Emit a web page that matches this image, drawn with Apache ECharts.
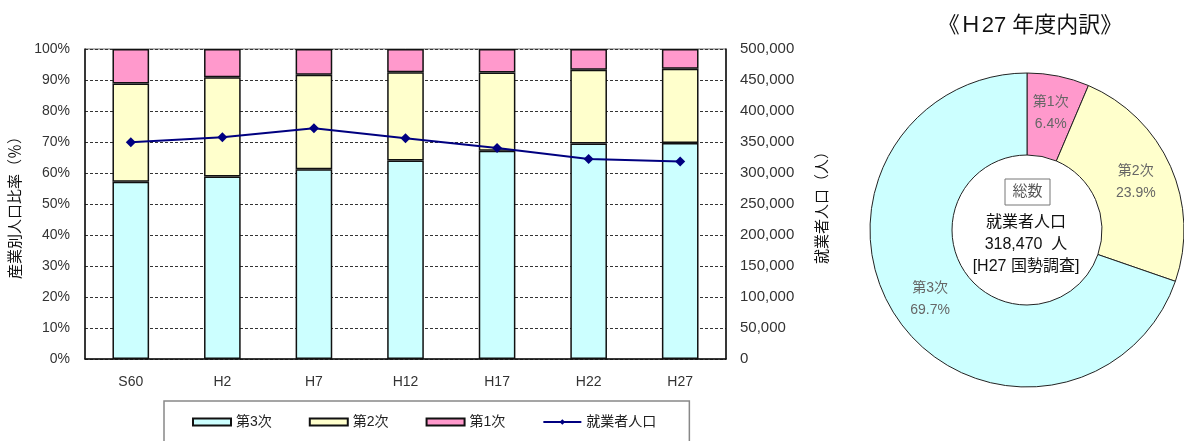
<!DOCTYPE html>
<html lang="ja">
<head>
<meta charset="utf-8">
<title>産業別人口比率と就業者人口</title>
<script src="https://cdn.jsdelivr.net/npm/echarts@6/dist/echarts.min.js"></script>
<style>
  html, body { margin: 0; padding: 0; background: #fff; }
  #chart { width: 1184px; height: 441px; }
</style>
</head>
<body>
<div id="chart"></div>
<script>
// Census years
const categories = ['S60', 'H2', 'H7', 'H12', 'H17', 'H22', 'H27'];
// Share of workers by industry sector (%)
const tertiary = [57.2, 58.9, 61.2, 64.0, 67.2, 69.5, 69.7];
const secondary = [31.7, 32.0, 30.5, 28.5, 25.2, 23.8, 23.9];
const primary = [11.1, 9.1, 8.3, 7.5, 7.6, 6.7, 6.4];
// Employed population (persons)
const workers = [349500, 357600, 372100, 356000, 340300, 322600, 318470];
// Sector names
const sectorNames = ['第3次', '第2次', '第1次'];
const lineName = '就業者人口';
const pieTitle = '《Ｈ27 年度内訳》';
const centerTitle = '総数';
const centerNote = '[H27 国勢調査]';

const COLORS = { tertiary: '#CCFFFF', secondary: '#FFFFCC', primary: '#FF99CC', line: '#000080' };
const FONT = '"Liberation Sans", "Noto Sans CJK JP", sans-serif';
const last = categories.length - 1;
const total = workers[last];

const fmtInt = v => String(v).replace(/\B(?=(\d{3})+(?!\d))/g, ',');

const chart = echarts.init(document.getElementById('chart'), null, { renderer: 'canvas' });

const barStyle = color => ({ color: color, borderColor: '#111', borderWidth: 1.5 });

chart.setOption({
  animation: false,
  textStyle: { fontFamily: FONT },
  title: {
    text: pieTitle,
    left: 1025,
    top: 10,
    textAlign: 'center',
    textStyle: { fontFamily: FONT, fontSize: 22, fontWeight: 'normal', color: '#111' }
  },
  legend: {
    left: 164,
    top: 401,
    padding: [14, 33, 30, 28],
    borderColor: '#888',
    borderWidth: 1.5,
    itemWidth: 38,
    itemHeight: 7,
    itemGap: 37,
    textStyle: { fontFamily: FONT, fontSize: 14, color: '#222' },
    data: [
      { name: sectorNames[0], icon: 'rect' },
      { name: sectorNames[1], icon: 'rect' },
      { name: sectorNames[2], icon: 'rect' },
      { name: lineName }
    ]
  },
  grid: {
    left: 85, right: 458, top: 49, bottom: 82,
    show: true, borderColor: '#666', borderWidth: 1
  },
  xAxis: {
    type: 'category',
    data: categories,
    axisLine: { lineStyle: { color: '#111', width: 1.5 } },
    axisTick: { inside: true, length: 4, lineStyle: { color: '#333' } },
    axisLabel: { fontFamily: FONT, fontSize: 14, color: '#333', margin: 16 }
  },
  yAxis: [
    {
      type: 'value',
      min: 0, max: 100, interval: 10,
      name: '産業別人口比率（％）',
      nameLocation: 'middle',
      nameRotate: 90,
      nameGap: 57,
      nameTextStyle: { fontFamily: FONT, fontSize: 15, color: '#111' },
      axisLine: { show: true, lineStyle: { color: '#111', width: 1.5 } },
      axisTick: { show: false },
      axisLabel: { formatter: '{value}%', fontFamily: FONT, fontSize: 14, color: '#333', margin: 15 },
      splitLine: { show: true, lineStyle: { color: '#333', type: [3, 2], width: 1 } }
    },
    {
      type: 'value',
      min: 0, max: 500000, interval: 50000,
      name: '就業者人口（人）',
      nameLocation: 'middle',
      nameRotate: 90,
      nameGap: 89,
      nameTextStyle: { fontFamily: FONT, fontSize: 15, color: '#111' },
      axisLine: { show: true, lineStyle: { color: '#111', width: 1.5 } },
      axisTick: { show: false },
      axisLabel: { formatter: v => fmtInt(v), fontFamily: FONT, fontSize: 15, color: '#333', margin: 14 },
      splitLine: { show: false }
    }
  ],
  series: [
    { name: sectorNames[0], type: 'bar', stack: 'share', barWidth: '40%', data: tertiary, itemStyle: barStyle(COLORS.tertiary) },
    { name: sectorNames[1], type: 'bar', stack: 'share', barWidth: '40%', data: secondary, itemStyle: barStyle(COLORS.secondary) },
    { name: sectorNames[2], type: 'bar', stack: 'share', barWidth: '40%', data: primary, itemStyle: barStyle(COLORS.primary) },
    {
      name: lineName, type: 'line', yAxisIndex: 1, data: workers,
      symbol: 'diamond', symbolSize: 10,
      lineStyle: { color: COLORS.line, width: 2 },
      itemStyle: { color: COLORS.line }
    },
    {
      name: 'H27内訳', type: 'pie',
      center: [1027, 230], radius: [75, 157],
      startAngle: 90, clockwise: true,
      legendHoverLink: false,
      itemStyle: { borderColor: '#222', borderWidth: 1 },
      label: {
        position: 'inside',
        fontFamily: FONT, fontSize: 14, color: '#666', lineHeight: 22,
        formatter: p => p.name + '\n' + p.value.toFixed(1) + '%'
      },
      labelLine: { show: false },
      data: [
        { name: sectorNames[2], value: primary[last], itemStyle: { color: COLORS.primary } },
        { name: sectorNames[1], value: secondary[last], itemStyle: { color: COLORS.secondary } },
        { name: sectorNames[0], value: tertiary[last], itemStyle: { color: COLORS.tertiary } }
      ]
    }
  ],
  graphic: [
    {
      type: 'rect', shape: { x: 1005, y: 179, width: 45, height: 26 },
      style: { fill: '#fff', stroke: '#777', lineWidth: 1 }
    },
    {
      type: 'text', x: 1027.5, y: 192,
      style: { text: centerTitle, fontFamily: FONT, fontSize: 15, fill: '#555', align: 'center', verticalAlign: 'middle' }
    },
    {
      type: 'text', x: 1026, y: 245,
      style: {
        text: lineName + '\n' + fmtInt(total) + '  人\n' + centerNote,
        fontFamily: FONT, fontSize: 16, lineHeight: 22, fill: '#111',
        align: 'center', verticalAlign: 'middle'
      }
    }
  ]
});
</script>
</body>
</html>
